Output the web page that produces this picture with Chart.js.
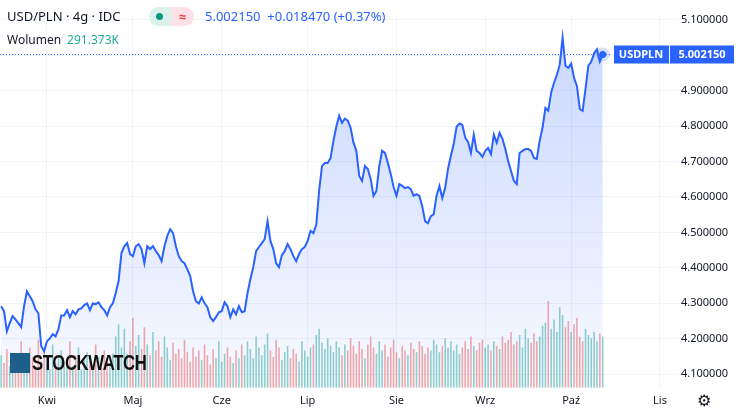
<!DOCTYPE html>
<html>
<head>
<meta charset="utf-8">
<script src="https://cdn.jsdelivr.net/npm/chart.js@4"></script>
<style>
  html, body { margin: 0; padding: 0; background: #fff; }
  #wrap { position: relative; width: 737px; height: 413px; font-family: "Noto Sans", Roboto, sans-serif; }
  canvas { position: absolute; left: 0; top: 0; }
  .hdr { position: absolute; left: 7px; top: 7px; font-size: 13px; color: #131722; white-space: nowrap; }
  .vol { position: absolute; left: 7px; top: 31px; font-size: 12px; color: #131722; }
  .vol span { color: #22ab94; margin-left: 6px; }
  .pill { position: absolute; left: 149px; top: 7px; width: 45px; height: 19px; border-radius: 10px; overflow: hidden; display: flex; }
  .pill .l { width: 22px; background: #daf1ec; position: relative; }
  .pill .l::after { content: ""; position: absolute; left: 7px; top: 6px; width: 7px; height: 7px; border-radius: 50%; background: #089981; }
  .pill .r { flex: 1; background: #fde1e6; color: #f23645; font-size: 13px; text-align: center; line-height: 18px; font-weight: bold; }
  .price { position: absolute; left: 205px; top: 7px; font-size: 13px; color: #2962ff; }
  .wm { position: absolute; left: 10px; top: 350px; display: flex; align-items: center; }
  .wm .ic { width: 20px; height: 20px; background: #1d5f8a; margin-right: 2px; }
  .wm .t { font-family: "Liberation Sans", sans-serif; font-weight: bold; font-size: 22px; color: #111; letter-spacing: -0.5px; transform: scaleX(0.76); transform-origin: left center; }
  .gear { position: absolute; left: 697px; top: 391px; font-size: 16px; color: #131722; font-family: "DejaVu Sans"; }
</style>
</head>
<body>
<div id="wrap">
  <canvas id="chart" width="737" height="413"></canvas>
  <div class="hdr">USD/PLN · 4g · IDC</div>
  <div class="pill"><div class="l"></div><div class="r">≈</div></div>
  <div class="price">5.002150 &nbsp;+0.018470 (+0.37%)</div>
  <div class="vol">Wolumen<span>291.373K</span></div>
  <div class="wm"><div class="ic"></div><div class="t">STOCKWATCH</div></div>
  <div class="gear">⚙</div>
</div>
<script>
// days counted from 1 April; first sample is 16 days earlier
var startDay = -16;

var prices = [
  4.292, 4.278, 4.221, 4.244, 4.264, 4.255, 4.244, 4.233, 4.292, 4.334,
  4.320, 4.306, 4.283, 4.272, 4.179, 4.165, 4.193, 4.201, 4.213, 4.207,
  4.227, 4.266, 4.266, 4.281, 4.261, 4.278, 4.269, 4.283, 4.286, 4.295,
  4.300, 4.281, 4.300, 4.298, 4.303, 4.289, 4.281, 4.266, 4.289, 4.300,
  4.329, 4.363, 4.442, 4.461, 4.470, 4.439, 4.433, 4.461, 4.467, 4.453,
  4.413, 4.461, 4.453, 4.461, 4.447, 4.436, 4.419, 4.461, 4.490, 4.509,
  4.498, 4.461, 4.433, 4.419, 4.413, 4.396, 4.377, 4.334, 4.306, 4.300,
  4.317, 4.300, 4.289, 4.261, 4.250, 4.261, 4.275, 4.278, 4.303, 4.292,
  4.261, 4.283, 4.269, 4.292, 4.275, 4.278, 4.329, 4.368, 4.402, 4.447,
  4.459, 4.470, 4.481, 4.532, 4.476, 4.453, 4.413, 4.402, 4.436, 4.447,
  4.467, 4.453, 4.433, 4.419, 4.439, 4.453, 4.459, 4.476, 4.504, 4.498,
  4.521, 4.617, 4.687, 4.696, 4.696, 4.710, 4.758, 4.798, 4.829, 4.809,
  4.821, 4.815, 4.795, 4.753, 4.730, 4.659, 4.645, 4.687, 4.679, 4.651,
  4.603, 4.617, 4.687, 4.730, 4.724, 4.696, 4.665, 4.628, 4.603, 4.636,
  4.631, 4.625, 4.628, 4.622, 4.603, 4.608, 4.603, 4.574, 4.532, 4.526,
  4.546, 4.551, 4.603, 4.631, 4.597, 4.625, 4.679, 4.716, 4.750, 4.798,
  4.807, 4.803, 4.767, 4.755, 4.724, 4.775, 4.730, 4.724, 4.713, 4.730,
  4.738, 4.721, 4.775, 4.753, 4.781, 4.764, 4.735, 4.701, 4.673, 4.645,
  4.636, 4.724, 4.730, 4.735, 4.735, 4.730, 4.710, 4.707, 4.758, 4.795,
  4.851, 4.843, 4.894, 4.922, 4.944, 4.973, 5.049, 4.970, 4.964, 4.976,
  4.936, 4.913, 4.848, 4.843, 4.905, 4.970, 4.982, 5.005, 5.016, 4.982,
  5.002
];

var volumes = [
  210, 160, 250, 140, 190, 220, 120, 300, 180, 150,
  260, 200, 140, 310, 170, 230, 190, 120, 280, 160,
  200, 240, 150, 180, 300, 140, 210, 260, 120, 190,
  230, 170, 150, 280, 200, 130, 240, 190, 160, 220,
  330, 410, 260, 380, 220, 300, 450, 270, 340, 250,
  390, 280, 210, 360, 240, 300, 200, 330, 260, 180,
  290, 220, 250, 190, 310, 230, 170, 260, 200, 240,
  180, 280, 210, 150, 250, 190, 300, 170, 220, 260,
  200, 160, 240, 190, 280, 210, 300, 250, 190, 330,
  260, 210, 280, 350, 240, 200, 310, 260, 180, 230,
  270, 190, 250, 220, 170, 300, 240, 200, 260, 280,
  340, 380, 290, 250, 320, 270, 230, 300, 260, 210,
  280, 240, 320, 270, 220, 300, 250, 190, 280, 330,
  260, 220, 300, 240, 280, 200, 260, 310, 230, 190,
  270, 240, 210, 290, 250, 230, 300, 270, 220, 260,
  240, 310, 280, 230, 270, 320, 260, 300, 240, 280,
  220, 260, 300, 250, 330, 270, 240, 290, 310, 260,
  280, 240, 300, 270, 250, 330, 290, 310, 360, 280,
  300, 340, 260, 380, 320, 290, 350, 300, 330, 400,
  420, 560, 380, 440, 360, 520, 470, 390, 430, 360,
  410, 450, 330, 300, 380, 340, 320, 360, 300, 350,
  330
];

var monthDays = [0, 30, 61, 91, 122, 153, 183, 214];
var monthNames = ["Kwi", "Maj", "Cze", "Lip", "Sie", "Wrz", "Paź", "Lis"];
var priceTicks = [4.1, 4.2, 4.3, 4.4, 4.5, 4.6, 4.7, 4.8, 4.9, 5.0, 5.1];
var lastLabel = "USDPLN";

var linePts = prices.map(function(p, i) { return { x: startDay + i, y: p }; });
var volPts = volumes.map(function(v, i) { return { x: startDay + i, y: v }; });
var volColors = volumes.map(function(v, i) {
  var up = i === 0 || prices[i] >= prices[i - 1];
  return up ? "rgba(38,166,154,0.5)" : "rgba(239,83,80,0.5)";
});

var lastTag = {
  id: "lastTag",
  afterDatasetsDraw: function(chart) {
    var ctx = chart.ctx, ys = chart.scales.y, xs = chart.scales.x;
    var last = prices[prices.length - 1];
    var y = Math.round(ys.getPixelForValue(last)) + 0.5;
    var x = xs.getPixelForValue(startDay + prices.length - 1);
    ctx.save();
    ctx.strokeStyle = "#2962ff";
    ctx.lineWidth = 1;
    ctx.setLineDash([1, 2]);
    ctx.beginPath(); ctx.moveTo(0, y); ctx.lineTo(612, y); ctx.stroke();
    ctx.setLineDash([]);
    ctx.fillStyle = "rgba(41,98,255,0.2)";
    ctx.beginPath(); ctx.arc(x, y, 7, 0, Math.PI * 2); ctx.fill();
    ctx.fillStyle = "#2962ff";
    ctx.beginPath(); ctx.arc(x, y, 3.5, 0, Math.PI * 2); ctx.fill();
    ctx.fillRect(614, y - 9, 55, 18);
    ctx.fillRect(670, y - 9, 64, 18);
    ctx.fillStyle = "#fff";
    ctx.font = "bold 11px 'Noto Sans', sans-serif";
    ctx.textAlign = "center"; ctx.textBaseline = "middle";
    ctx.fillText(lastLabel, 641, y);
    ctx.fillText("5.002150", 702, y);
    ctx.restore();
  }
};

window.chart = new Chart(document.getElementById("chart").getContext("2d"), {
  data: {
    datasets: [
      {
        type: "line",
        data: linePts,
        yAxisID: "y",
        borderColor: "#2962ff",
        borderWidth: 2,
        pointRadius: 0,
        tension: 0,
        fill: "start",
        backgroundColor: function(c) {
          var a = c.chart.chartArea;
          if (!a) return "rgba(41,98,255,0.15)";
          var g = c.chart.ctx.createLinearGradient(0, a.top, 0, a.bottom);
          g.addColorStop(0, "rgba(41,98,255,0.26)");
          g.addColorStop(1, "rgba(41,98,255,0.03)");
          return g;
        },
        order: 1
      },
      {
        type: "bar",
        data: volPts,
        yAxisID: "v",
        backgroundColor: volColors,
        barPercentage: 0.55,
        categoryPercentage: 1,
        order: 2
      }
    ]
  },
  options: {
    responsive: false,
    animation: false,
    layout: { padding: 0 },
    plugins: { legend: { display: false }, tooltip: { enabled: false } },
    scales: {
      x: {
        type: "linear",
        offset: false,
        min: -16.4,
        max: 234.6,
        afterBuildTicks: function(s) { s.ticks = monthDays.map(function(d) { return { value: d }; }); },
        ticks: {
          autoSkip: false, maxRotation: 0, padding: 6,
          color: "#131722", font: { size: 11, family: "Noto Sans" },
          callback: function(v) { return monthNames[monthDays.indexOf(v)]; }
        },
        grid: { color: "#f0f3fa", drawTicks: false, offset: false },
        border: { display: false }
      },
      y: {
        position: "right",
        min: 4.0619,
        max: 5.1113,
        afterBuildTicks: function(s) { s.ticks = priceTicks.map(function(v) { return { value: v }; }); },
        ticks: {
          mirror: true, padding: 9,
          color: "#131722", font: { size: 11, family: "Noto Sans" },
          callback: function(v) { return v.toFixed(6); }
        },
        grid: { color: "#f0f3fa", drawTicks: false },
        border: { display: false }
      },
      v: {
        display: false,
        min: 0,
        max: 2400
      }
    }
  },
  plugins: [lastTag]
});
</script>
</body>
</html>
